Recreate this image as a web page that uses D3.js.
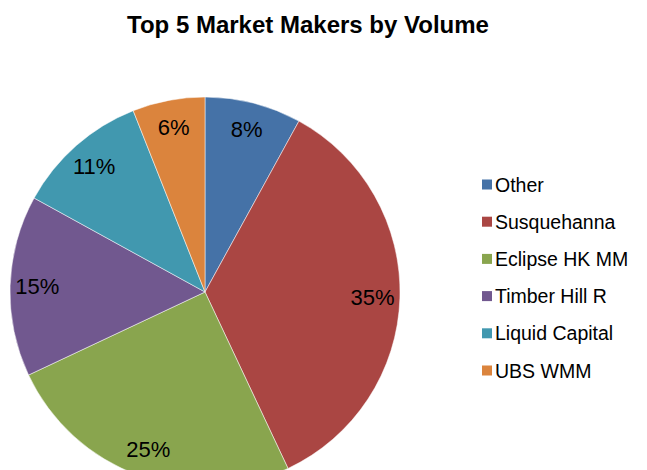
<!DOCTYPE html>
<html><head><meta charset="utf-8">
<script src="https://cdn.jsdelivr.net/npm/d3@7"></script>
<style>body{margin:0;background:#fff}svg{display:block}text{font-family:"Liberation Sans",Arial,sans-serif}</style>
</head><body><div id="chart"></div>
<script>
const categories = ["Other","Susquehanna","Eclipse HK MM","Timber Hill R","Liquid Capital","UBS WMM"];
const values = [8,35,25,15,11,6];
const colors = ["#4572A7","#AA4643","#89A54E","#71588F","#4198AF","#DB843D"];
const title = "Top 5 Market Makers by Volume";

const W=647,H=470;
const svg=d3.select("#chart").append("svg").attr("width",W).attr("height",H);
svg.append("text").attr("x",308).attr("y",33).attr("text-anchor","middle")
  .attr("font-size",24).attr("font-weight","bold").text(title);

const cx=205, cy=292, R=195;
const data=categories.map((c,i)=>({c,v:values[i],col:colors[i]}));
const pie=d3.pie().value(d=>d.v).sort(null);
const arcs=pie(data);
const arc=d3.arc().innerRadius(0).outerRadius(R);
const labelArc=d3.arc().innerRadius(R*0.86).outerRadius(R*0.86);
const g=svg.append("g").attr("transform",`translate(${cx},${cy})`);
g.selectAll("path").data(arcs).join("path").attr("d",arc).attr("fill",d=>d.data.col)
  .attr("stroke","#fff").attr("stroke-width",0.5);
g.selectAll("text").data(arcs).join("text")
  .attr("transform",d=>`translate(${labelArc.centroid(d)})`)
  .attr("text-anchor","middle").attr("dy","0.35em").attr("font-size",22)
  .text(d=>d.data.v+"%");

const y=d3.scalePoint().domain(categories).range([184.5,370.5]);
const lg=svg.append("g");
const items=lg.selectAll("g").data(data).join("g").attr("transform",d=>`translate(482,${y(d.c)})`);
items.append("rect").attr("x",0).attr("y",-5).attr("width",10).attr("height",10).attr("fill",d=>d.col);
items.append("text").attr("x",13).attr("dy","0.36em").attr("font-size",19.5).text(d=>d.c);
</script></body></html>
